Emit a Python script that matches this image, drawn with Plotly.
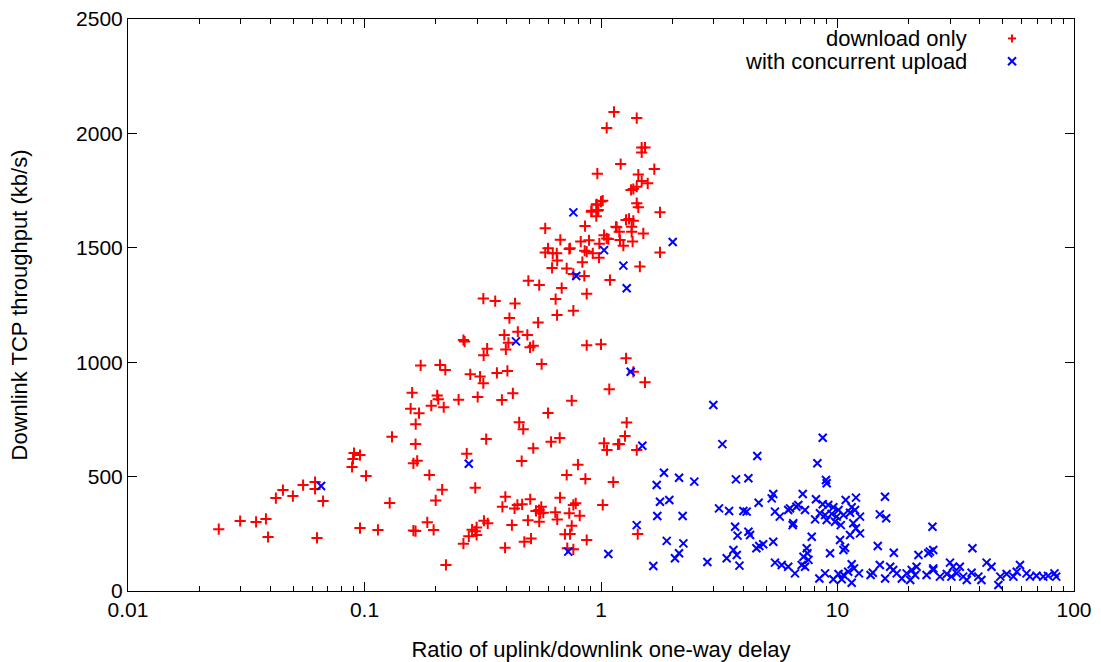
import plotly.graph_objects as go

# download only (red +)
dl_x = [0.0242,0.0298,0.0348,0.0383,0.0391,0.0422,0.0452,0.0498,0.0550,0.0618,0.0618,0.0668,0.0630,
        0.0886,0.0894,0.0903,0.0957,0.1015,0.0957,0.114,0.318,0.357,0.262,0.265,0.330,0.319,0.1728,
        0.2085,0.2196,0.280,0.308,0.318,0.363,0.159,0.203,0.205,0.250,0.301,0.1567,0.170,0.1916,0.2163,
        0.1646,0.1307,0.1644,0.161,0.167,0.188,0.213,0.200,0.2706,0.327,0.294,0.1278,0.161,0.1644,
        0.1843,0.196,0.221,0.262,0.276,0.285,0.298,0.294,0.298,0.320,0.332,0.955,1.0,0.910,0.965,0.955,
        0.581,0.856,1.157,0.673,0.821,0.890,1.03,1.074,0.984,0.597,0.581,0.625,0.650,0.653,0.734,0.853,
        0.870,0.923,0.981,0.621,0.716,0.834,0.850,0.764,1.091,0.493,0.548,0.682,0.643,0.870,0.764,0.433,
        0.410,0.652,0.542,0.445,0.390,0.488,0.406,0.396,0.501,0.517,0.870,1.0,0.561,0.402,0.424,0.381,
        1.084,0.752,0.597,0.451,0.469,0.615,0.669,0.517,1.03,1.06,1.18,0.462,0.799,0.716,0.859,1.127,
        0.394,0.383,0.431,0.443,0.464,0.502,0.559,0.531,0.547,0.570,0.554,0.671,0.641,0.653,0.764,0.782,
        0.734,0.813,0.752,0.704,0.740,0.870,1.017,0.491,0.548,0.420,0.506,0.474,0.393,0.720,0.764,
        1.135,1.416,1.057,1.486,1.535,1.486,1.211,0.965,1.438,1.68,1.486,1.576,1.416,1.37,1.34,1.017,
        0.959,0.974,0.913,1.416,1.438,1.776,1.276,1.314,1.37,1.348,1.348,1.165,1.195,1.51,1.057,1.36,
        1.203,1.243,0.740,1.46,1.776,1.276,1.37,1.535,1.284,1.263,1.195,1.416,1.43]
dl_y = [270,306,302,315,236,406,441,415,463,476,446,393,232,
        542,577,603,594,503,275,267,1278,1267,1097,1090,1059,1030,986,
        988,966,947,937,908,953,867,855,838,836,848,797,777,810,803,
        729,674,642,558,569,507,443,396,600,664,451,385,264,262,
        300,267,114,207,239,268,278,261,245,307,296,1688,1702,1658,1662,1638,
        1585,1595,1592,1535,1527,1533,1555,1538,1518,1498,1479,1476,1476,1444,1495,1487,
        1483,1476,1457,1412,1410,1437,1377,1386,1359,1356,1337,1324,1276,1299,1225,1257,
        1193,1206,1173,1133,1119,1119,1085,1056,1065,1072,1074,1078,992,962,864,835,
        882,832,778,737,707,652,669,624,646,616,641,568,552,507,490,476,
        412,368,361,376,379,401,368,350,354,342,340,408,344,313,376,383,
        340,329,285,248,249,223,376,309,303,288,229,215,189,187,182,
        2094,2067,2024,1938,1938,1917,1866,1824,1820,1844,1792,1782,1767,1757,1753,1706,
        1690,1665,1662,1695,1677,1655,1622,1626,1618,1592,1570,1590,1570,1563,1541,1527,
        1534,1509,1498,1418,1480,1017,958,912,736,677,642,616,249]

# with concurrent upload (blue x)
up_x = [0.0655,0.276,0.764,1.03,0.786,1.243,0.437,2.01,1.284,1.335,0.727,1.074,1.495,2.985,3.26,4.58,
        1.416,1.846,1.72,2.138,2.48,1.776,1.944,1.73,2.214,1.896,2.23,2.138,2.055,1.664,2.817,3.72,4.20,
        3.155,3.48,4.0,4.13,4.64,5.27,5.35,3.69,3.78,4.20,4.27,3.63,3.75,3.40,3.85,4.67,4.85,5.35,4.54,
        5.44,5.81,6.19,6.61,5.44,5.70,6.19,6.50,6.70,8.66,8.22,8.94,9.0,7.13,15.88,11.97,10.83,8.11,6.83,
        6.30,7.29,8.66,9.14,9.6,10.1,11.48,11.3,11.86,8.43,8.86,9.45,9.92,10.6,8.04,9.0,9.76,10.33,12.45,
        11.66,6.46,15.1,16.07,11.3,12.45,11.97,7.78,10.25,10.76,10.6,9.3,7.41,7.46,7.18,7.54,7.06,7.29,
        8.38,8.86,9.6,10.1,10.6,11.1,11.48,11.75,12.32,11.48,10.42,14.8,17.3,14.1,15.1,13.8,15.9,16.7,
        17.2,17.8,18.7,19.6,20.6,21.6,21.3,20.3,22.0,24.2,25.4,25.2,23.8,25.4,37.2,24.6,29.9,30.8,32.9,
        42.7,44.8,59.1,25.4,27.1,29.0,31.9,34.0,36.9,39.4,40.6,47.9,48.8,51.9,55.4,57.3,63.0,65.1,69.4,
        74.1,77.7,82.7,84.1,30.3,35.2]
up_y = [459,556,1655,1490,1377,1422,1091,1525,1323,958,172,162,635,813,642,590,
        288,517,463,495,478,390,398,328,328,219,208,165,143,109,127,488,493,
        361,350,350,347,386,405,424,281,242,259,245,179,157,143,111,197,204,215,187,
        124,114,106,77,347,325,354,296,368,670,558,485,471,424,412,408,398,401,376,
        361,354,379,376,366,354,366,342,354,340,332,337,325,332,313,310,303,288,325,
        296,288,335,318,245,252,274,237,223,189,179,165,187,165,150,136,114,106,
        55,77,51,74,70,84,117,99,77,36,51,197,167,80,114,70,55,106,
        92,77,55,77,92,106,70,48,157,165,179,281,70,99,187,172,124,106,106,
        124,106,114,92,63,74,77,63,80,63,48,26,63,74,63,84,77,63,67,
        63,66,77,63,63,48]

series_names = ["download only", "with concurrent upload"]
x_ticks = [0.01, 0.1, 1, 10, 100]
x_ticktext = ["0.01", "0.1", "1", "10", "100"]
y_ticks = [0, 500, 1000, 1500, 2000, 2500]

FONT = "Liberation Sans, Arial, sans-serif"
TFONT = dict(family=FONT, size=22, color="black")

fig = go.Figure()
fig.add_trace(go.Scatter(x=dl_x, y=dl_y, mode="markers", name=series_names[0],
                         marker=dict(symbol="cross-thin-open", size=8, color="#ff0000",
                                     line=dict(width=2, color="#ff0000")), showlegend=False))
fig.add_trace(go.Scatter(x=up_x, y=up_y, mode="markers", name=series_names[1],
                         marker=dict(symbol="x-thin-open", size=8, color="#0000ff",
                                     line=dict(width=2, color="#0000ff")), showlegend=False))

minor_vals = [m * 10 ** e for e in range(-2, 2) for m in range(2, 10)]

fig.update_layout(
    width=1101, height=662,
    margin=dict(l=128, r=27, t=19, b=71),
    paper_bgcolor="white", plot_bgcolor="white",
    font=dict(family=FONT, size=22, color="black"),
    xaxis=dict(type="log", range=[-2, 2], tickvals=x_ticks, ticktext=x_ticktext, automargin=False,
               ticks="inside", ticklen=9, tickcolor="black", showline=True, linecolor="black",
               linewidth=1, mirror="ticks", showgrid=False, zeroline=False,
               tickfont=dict(family=FONT, size=21, color="black"),
               minor=dict(tickvals=minor_vals, ticks="inside", ticklen=5, tickcolor="black", showgrid=False),
               title=dict(text="Ratio of uplink/downlink one-way delay", standoff=22, font=TFONT)),
    yaxis=dict(range=[0, 2500], tickvals=y_ticks, ticks="inside", ticklen=9, tickcolor="black",
               showline=True, linecolor="black", linewidth=1, mirror="ticks", showgrid=False,
               zeroline=False, automargin=False,
               tickfont=dict(family=FONT, size=21, color="black"),
               title=dict(text="Downlink TCP throughput (kb/s)", standoff=42, font=TFONT)),
)

# legend in gnuplot style (text then marker on the right)
leg_y = [0.966, 0.926]
colors = ["#ff0000", "#0000ff"]
for i, name in enumerate(series_names):
    fig.add_annotation(xref="paper", yref="paper", x=0.889, y=leg_y[i], text=name,
                       showarrow=False, xanchor="right", yanchor="middle", font=TFONT)
s = 4
xa = 0.9345
ya = leg_y[0]
fig.add_shape(type="line", xref="paper", yref="paper", xsizemode="pixel", ysizemode="pixel",
              xanchor=xa, yanchor=ya, x0=-s, x1=s, y0=0, y1=0, line=dict(color=colors[0], width=2))
fig.add_shape(type="line", xref="paper", yref="paper", xsizemode="pixel", ysizemode="pixel",
              xanchor=xa, yanchor=ya, x0=0, x1=0, y0=-s, y1=s, line=dict(color=colors[0], width=2))
ya = leg_y[1]
fig.add_shape(type="line", xref="paper", yref="paper", xsizemode="pixel", ysizemode="pixel",
              xanchor=xa, yanchor=ya, x0=-s, x1=s, y0=-s, y1=s, line=dict(color=colors[1], width=2))
fig.add_shape(type="line", xref="paper", yref="paper", xsizemode="pixel", ysizemode="pixel",
              xanchor=xa, yanchor=ya, x0=-s, x1=s, y0=s, y1=-s, line=dict(color=colors[1], width=2))

fig.write_html("out.html")
